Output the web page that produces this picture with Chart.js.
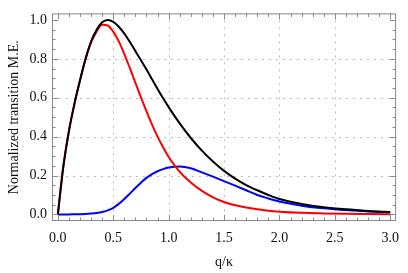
<!DOCTYPE html>
<html>
<head>
<meta charset="utf-8">
<script src="https://cdn.jsdelivr.net/npm/chart.js@4"></script>
<style>
  html, body { margin: 0; padding: 0; background: #fff; }
  canvas { display: block; }
</style>
</head>
<body>
<canvas id="chart" width="408" height="273"></canvas>
<script>
// q/kappa sample points
const qVals = [0, 0.025, 0.05, 0.1, 0.15, 0.2, 0.25, 0.3, 0.35, 0.4, 0.45, 0.5, 0.55, 0.6, 0.65, 0.7, 0.75, 0.8, 0.85, 0.9, 0.95, 1.0,
  1.1, 1.2, 1.3, 1.4, 1.5, 1.6, 1.7, 1.8, 1.9, 2.0, 2.2, 2.4, 2.6, 2.8, 3.0];
const totalVals = [0, 0.13, 0.25, 0.43, 0.57, 0.69, 0.80, 0.89, 0.95, 0.988, 1.0, 0.99, 0.965, 0.93, 0.887, 0.84, 0.793, 0.745, 0.695, 0.645, 0.597, 0.552,
  0.468, 0.393, 0.328, 0.272, 0.224, 0.184, 0.151, 0.124, 0.1, 0.079, 0.054, 0.037, 0.026, 0.018, 0.012];
const redVals = [0, 0.13, 0.25, 0.43, 0.57, 0.69, 0.80, 0.885, 0.94, 0.975, 0.972, 0.94, 0.89, 0.825, 0.752, 0.677, 0.602, 0.53, 0.462, 0.40, 0.345, 0.295,
  0.219, 0.164, 0.121, 0.088, 0.064, 0.047, 0.035, 0.026, 0.019, 0.014, 0.008, 0.005, 0.003, 0.002, 0.001];
const blueVals = [0, 0, 0, 0, 0.0005, 0.001, 0.002, 0.004, 0.007, 0.012, 0.021, 0.034, 0.054, 0.079, 0.107, 0.136, 0.163, 0.188, 0.207, 0.222, 0.233, 0.241,
  0.247, 0.237, 0.216, 0.194, 0.171, 0.148, 0.124, 0.1, 0.082, 0.066, 0.045, 0.031, 0.022, 0.015, 0.011];

const xTicks = [0, 0.5, 1.0, 1.5, 2.0, 2.5, 3.0];
const yTicks = [0, 0.2, 0.4, 0.6, 0.8, 1.0];
const xMinor = [0.1, 0.2, 0.3, 0.4, 0.6, 0.7, 0.8, 0.9, 1.1, 1.2, 1.3, 1.4, 1.6, 1.7, 1.8, 1.9, 2.1, 2.2, 2.3, 2.4, 2.6, 2.7, 2.8, 2.9];
const yMinor = [0.05, 0.1, 0.15, 0.25, 0.3, 0.35, 0.45, 0.5, 0.55, 0.65, 0.7, 0.75, 0.85, 0.9, 0.95];

const pts = vals => vals.map((v, i) => ({ x: qVals[i], y: v }));
const FONT = '"Liberation Serif", "DejaVu Serif", serif';
const FRAME = '#8a8a8a';

// mathematica-ish frame: gridlines, box, inward ticks
const framePlugin = {
  id: 'frame',
  beforeDatasetsDraw(chart) {
    const { ctx, chartArea: a, scales: { x, y } } = chart;
    ctx.save();
    ctx.strokeStyle = '#bdbdbd';
    ctx.lineWidth = 1;
    ctx.setLineDash([2, 5]);
    xTicks.slice(1, -1).forEach(v => {
      const px = Math.round(x.getPixelForValue(v)) + 0.5;
      ctx.beginPath(); ctx.moveTo(px, a.top); ctx.lineTo(px, a.bottom); ctx.stroke();
    });
    yTicks.slice(1, -1).forEach(v => {
      const py = Math.round(y.getPixelForValue(v)) + 0.5;
      ctx.beginPath(); ctx.moveTo(a.left, py); ctx.lineTo(a.right, py); ctx.stroke();
    });
    ctx.restore();
  },
  afterDatasetsDraw(chart) {
    const { ctx, chartArea: a, scales: { x, y } } = chart;
    ctx.save();
    ctx.strokeStyle = FRAME;
    ctx.lineWidth = 1;
    ctx.setLineDash([]);
    ctx.strokeRect(a.left + 0.5, a.top + 0.5, a.right - a.left - 1, a.bottom - a.top - 1);
    const tick = (vals, len) => {
      vals.forEach(v => {
        const px = Math.round(x.getPixelForValue(v)) + 0.5;
        ctx.beginPath();
        ctx.moveTo(px, a.bottom); ctx.lineTo(px, a.bottom - len);
        ctx.moveTo(px, a.top); ctx.lineTo(px, a.top + len);
        ctx.stroke();
      });
    };
    const tickY = (vals, len) => {
      vals.forEach(v => {
        const py = Math.round(y.getPixelForValue(v)) + 0.5;
        ctx.beginPath();
        ctx.moveTo(a.left, py); ctx.lineTo(a.left + len, py);
        ctx.moveTo(a.right, py); ctx.lineTo(a.right - len, py);
        ctx.stroke();
      });
    };
    tick(xTicks, 6); tick(xMinor, 3.5);
    tickY(yTicks, 6); tickY(yMinor, 3.5);
    ctx.restore();
  }
};

new Chart(document.getElementById('chart'), {
  type: 'line',
  data: {
    datasets: [
      { data: pts(totalVals), borderColor: '#000000' },
      { data: pts(redVals), borderColor: '#ff0000' },
      { data: pts(blueVals), borderColor: '#0000ff' }
    ].map(d => Object.assign(d, {
      borderWidth: 2, pointRadius: 0, fill: false, cubicInterpolationMode: 'monotone'
    }))
  },
  options: {
    responsive: false,
    animation: false,
    layout: { padding: { top: 2, right: 2, left: 0, bottom: 0 } },
    plugins: { legend: { display: false }, tooltip: { enabled: false } },
    scales: {
      x: {
        type: 'linear', min: -0.053, max: 3.053,
        afterBuildTicks: s => { s.ticks = xTicks.map(v => ({ value: v })); },
        afterFit: s => { s.height = 52; },
        grid: { display: false, drawTicks: false },
        border: { display: false },
        ticks: { padding: 9, color: '#111', font: { family: FONT, size: 14 }, callback: v => v.toFixed(1) },
        title: { display: true, text: 'q/\u03ba', color: '#111', font: { family: FONT, size: 14 }, padding: { top: 0, bottom: 2 } }
      },
      y: {
        min: -0.034, max: 1.034,
        afterBuildTicks: s => { s.ticks = yTicks.map(v => ({ value: v })); },
        afterFit: s => { s.width = 52; },
        grid: { display: false, drawTicks: false },
        border: { display: false },
        ticks: { padding: 5, color: '#111', font: { family: FONT, size: 14 }, callback: v => v.toFixed(1) },
        title: { display: true, text: 'Normalized transition M.E.', color: '#111', font: { family: FONT, size: 14 }, padding: { top: 6, bottom: 0 } }
      }
    }
  },
  plugins: [framePlugin]
});
</script>
</body>
</html>
